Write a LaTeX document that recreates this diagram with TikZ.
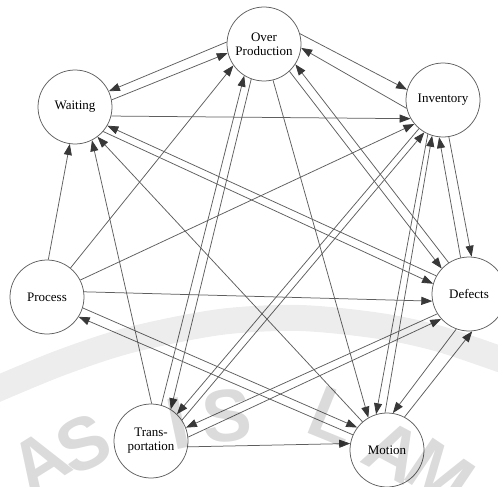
\documentclass[tikz,border=0pt]{standalone}
\usepackage{fontspec}
\setmainfont{Liberation Serif}
\newfontfamily\wmfont{Liberation Sans}
\usetikzlibrary{arrows.meta}
\definecolor{ln}{HTML}{5E5E5E}
\definecolor{tipc}{HTML}{383838}
\tikzset{
  wnode/.style={circle, draw=ln, line width=0.75pt, fill=white, minimum size=74pt, inner sep=0pt, align=center, font=\fontsize{13}{14}\selectfont},
  arr/.style={draw=ln, line width=0.75pt, -{Triangle[length=11pt,width=8pt,color=tipc]}},
  wm/.style={text=black, text opacity=0.14, font=\wmfont\bfseries\fontsize{74}{74}\selectfont, inner sep=0pt}
}
\begin{document}
\begin{tikzpicture}[x=1pt,y=-1pt]
\useasboundingbox (0,0) rectangle (498,487);
\fill[white] (0,0) rectangle (498,487);
\node[wnode] (OP) at (264,44) {Over\\Production};
\node[wnode] (W) at (75,107) {Waiting};
\node[wnode] (I) at (443,100) {Inventory};
\node[wnode] (P) at (47,297) {Process};
\node[wnode] (D) at (469,294) {Defects};
\node[wnode] (T) at (151,441) {Trans-\\portation};
\node[wnode] (M) at (387,450) {Motion};
% Over Production
\draw[arr] (OP.177) -- (W.25);
\draw[arr] (W.11) -- (OP.194);
\draw[arr] (OP.16) -- (I.164);
\draw[arr] (I.193) -- (OP.354);
\draw[arr] (OP.313) -- (D.137);
\draw[arr] (D.123) -- (OP.327);
\draw[arr] (OP.250) -- (T.58);
\draw[arr] (T.74) -- (OP.238);
\draw[arr] (OP.284) -- (M.120);
\draw[arr] (P.51) -- (OP.215);
% Waiting
\draw[arr] (W.-14) -- (I.210);
\draw[arr] (W.-41) -- (D.164);
\draw[arr] (D.151) -- (W.-30);
\draw[arr] (P.88) -- (W.-98);
\draw[arr] (T.89) -- (W.-63);
\draw[arr] (M.131) -- (W.-53);
% Inventory
\draw[arr] (P.27) -- (I.220);
\draw[arr] (I.230) -- (T.46);
\draw[arr] (T.34) -- (I.240);
\draw[arr] (I.246) -- (M.107);
\draw[arr] (M.93) -- (I.253);
\draw[arr] (I.279) -- (D.86);
\draw[arr] (D.103) -- (I.264);
% Process
\draw[arr] (P.8) -- (D.191);
\draw[arr] (P.-17) -- (M.143);
\draw[arr] (M.156) -- (P.-32);
% Transportation, Defects, Motion
\draw[arr] (T.6) -- (D.222);
\draw[arr] (D.212) -- (T.21);
\draw[arr] (T.-9) -- (M.170);
\draw[arr] (D.250) -- (M.81);
\draw[arr] (M.62) -- (D.275);
% watermark
\draw[line width=26pt, draw opacity=0.07, line cap=butt] plot[smooth] coordinates {(-10,392) (60,363) (130,340) (220,322) (300,318) (380,326) (440,339) (508,362)};
\node[wm, rotate=32] (wa1) at (40,462) {A};
\node[wm, rotate=26] (ws1) at (84,444) {S};
\node[wm, rotate=12] (wi) at (178,423) {I};
\node[wm, rotate=5] (ws2) at (227,416) {S};
\node[wm, rotate=-22] (wl) at (334,416) {L};
\node[wm, rotate=-28] (wa2) at (394,452) {A};
\node[wm, rotate=-34] (wmm) at (440,474) {M};
\end{tikzpicture}
\end{document}
